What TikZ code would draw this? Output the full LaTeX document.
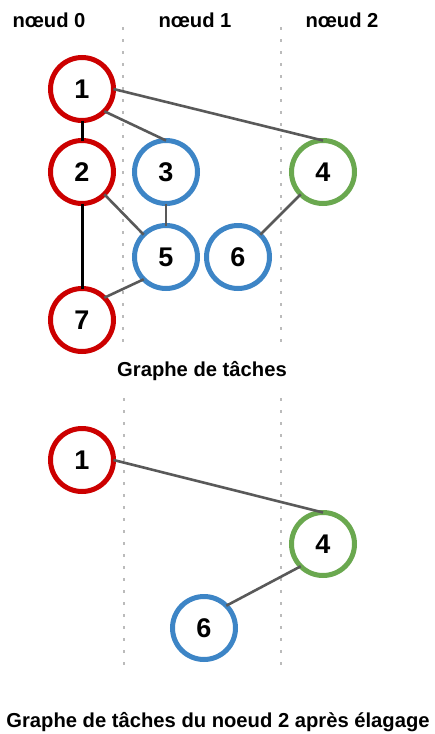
\documentclass[tikz,border=0pt]{standalone}
\usepackage{fontspec}
\setmainfont{Liberation Sans}
\definecolor{nred}{HTML}{CC0000}
\definecolor{nblue}{HTML}{3D85C6}
\definecolor{ngreen}{HTML}{6AA84F}
\definecolor{edgegray}{HTML}{595959}
\definecolor{sepgray}{HTML}{BBBBBB}
\begin{document}
\begin{tikzpicture}[x=1pt,y=-1pt,
  task/.style={circle,draw,line width=5pt,fill=white,minimum size=63pt,inner sep=0pt,outer sep=0pt,
    font=\fontsize{27}{30}\selectfont\bfseries},
  rtask/.style={task,draw=nred},
  btask/.style={task,draw=nblue},
  gtask/.style={task,draw=ngreen},
  lbl/.style={font=\fontsize{20.2}{24}\selectfont\bfseries},
  sep/.style={draw=sepgray,line width=2.6pt,dash pattern=on 2.6pt off 9.4pt},
  gedge/.style={draw=edgegray,line width=2.6pt},
  kedge/.style={draw=black,line width=3pt}]
\useasboundingbox (0,0) rectangle (434,734);
% headers
\node[lbl] (h0) at (49,20) {nœud 0};
\node[lbl] (h1) at (195,20) {nœud 1};
\node[lbl] (h2) at (342,20) {nœud 2};
% separators
\coordinate (s1a) at (123,27); \coordinate (s1b) at (123,345);
\coordinate (s2a) at (281,27); \coordinate (s2b) at (281,345);
\coordinate (s3a) at (124,398); \coordinate (s3b) at (124,668);
\coordinate (s4a) at (281,398); \coordinate (s4b) at (281,668);
\draw[sep] (s1a) -- (s1b);
\draw[sep] (s2a) -- (s2b);
\draw[sep] (s3a) -- (s3b);
\draw[sep] (s4a) -- (s4b);
% top graph
\node[rtask] (n1) at (82,89) {1};
\node[rtask] (n2) at (82,172) {2};
\node[btask] (n3) at (166,172) {3};
\node[gtask] (n4) at (323,172) {4};
\node[btask] (n5) at (166,257) {5};
\node[btask] (n6) at (238,257) {6};
\node[rtask] (n7) at (82,320) {7};
\draw[kedge] (n1.south) -- (n2.north);
\draw[kedge] (n2.south) -- (n7.north);
\draw[gedge] (n1.east) -- (n4.north);
\draw[gedge] (n1.south east) -- (n3.north);
\draw[gedge] (n2.south east) -- (n5.north west);
\draw[gedge] (n3.south) -- (n5.north);
\draw[gedge] (n5.south west) -- (n7.north east);
\draw[gedge] (n4.south west) -- (n6.north east);
\node[lbl] (t1) at (202,371) {Graphe de tâches};
% bottom graph
\node[rtask] (m1) at (82,460) {1};
\node[gtask] (m4) at (323,544) {4};
\node[btask] (m6) at (204,628) {6};
\draw[gedge] (m1.east) -- (m4.north);
\draw[gedge] (m4.south west) -- (m6.north east);
\node[lbl] (t2) at (218,722) {Graphe de tâches du noeud 2 après élagage};
\end{tikzpicture}
\end{document}
